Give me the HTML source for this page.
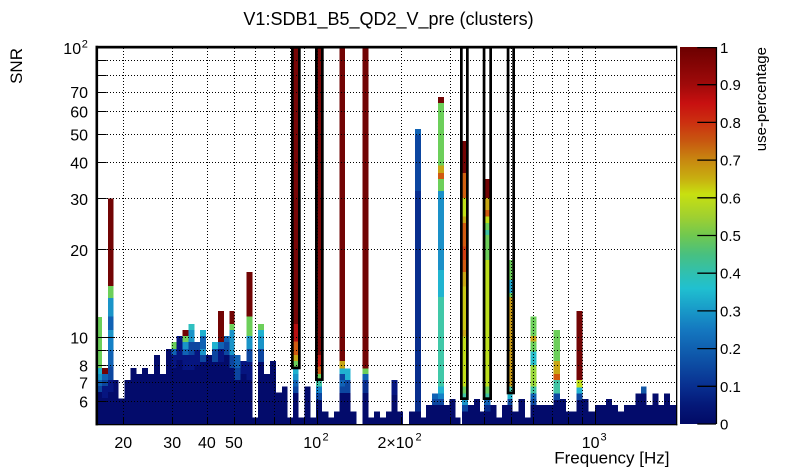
<!DOCTYPE html>
<html><head><meta charset="utf-8"><style>
html,body{margin:0;padding:0;background:#fff;}
svg{display:block;}
text{font-family:"Liberation Sans",Arial,sans-serif;fill:#000;}
</style></head><body>
<svg width="805" height="472" viewBox="0 0 805 472" xmlns="http://www.w3.org/2000/svg">
<defs>
<linearGradient id="pal" x1="0" y1="1" x2="0" y2="0">
<stop offset="0" stop-color="#020a66"/>
<stop offset="0.05" stop-color="#041878"/>
<stop offset="0.1" stop-color="#082f90"/>
<stop offset="0.15" stop-color="#0c48a0"/>
<stop offset="0.2" stop-color="#1060b0"/>
<stop offset="0.25" stop-color="#1478c0"/>
<stop offset="0.3" stop-color="#1898c8"/>
<stop offset="0.36" stop-color="#20c0d0"/>
<stop offset="0.4" stop-color="#30c0b0"/>
<stop offset="0.45" stop-color="#48c080"/>
<stop offset="0.5" stop-color="#70c850"/>
<stop offset="0.55" stop-color="#a0d030"/>
<stop offset="0.61" stop-color="#c8e010"/>
<stop offset="0.65" stop-color="#c8b010"/>
<stop offset="0.7" stop-color="#c88810"/>
<stop offset="0.75" stop-color="#c85810"/>
<stop offset="0.8" stop-color="#cc3010"/>
<stop offset="0.85" stop-color="#c81010"/>
<stop offset="0.9" stop-color="#a00a0a"/>
<stop offset="1" stop-color="#6c0000"/>
</linearGradient>
</defs>
<rect x="0" y="0" width="805" height="472" fill="#fff"/>

<!-- title -->
<text x="388.5" y="25" font-size="18" text-anchor="middle">V1:SDB1_B5_QD2_V_pre (clusters)</text>

<!-- histogram cells -->
<g shape-rendering="crispEdges">
<!-- A -->
<rect x="97" y="317" width="5" height="51" fill="#6ccf5a"/>
<rect x="97" y="368" width="5" height="6" fill="#20b2d0"/>
<rect x="97" y="374" width="5" height="6" fill="#1a94c8"/>
<rect x="97" y="380" width="5" height="6" fill="#1062b4"/>
<rect x="97" y="386" width="5" height="6" fill="#0c46a0"/>
<rect x="97" y="392" width="5" height="32" fill="#030b6b"/>
<!-- B -->
<rect x="102" y="368" width="6" height="6" fill="#720404"/>
<rect x="102" y="374" width="6" height="6" fill="#1062b4"/>
<rect x="102" y="380" width="6" height="6" fill="#0c46a0"/>
<rect x="102" y="386" width="6" height="12" fill="#061580"/>
<rect x="102" y="398" width="6" height="26" fill="#030b6b"/>
<!-- C -->
<rect x="108" y="198.3" width="5.3" height="87.7" fill="#720404"/>
<rect x="108" y="286" width="5.3" height="12" fill="#6ccf5a"/>
<rect x="108" y="298" width="5.3" height="18.7" fill="#1a94c8"/>
<rect x="108" y="316.7" width="5.3" height="13.3" fill="#1062b4"/>
<rect x="108" y="330" width="5.3" height="6.7" fill="#1a94c8"/>
<rect x="108" y="336.7" width="5.3" height="13.3" fill="#1480c6"/>
<rect x="108" y="350" width="5.3" height="16.7" fill="#1062b4"/>
<rect x="108" y="366.7" width="5.3" height="13.3" fill="#0c46a0"/>
<rect x="108" y="380" width="5.3" height="12" fill="#061580"/>
<rect x="108" y="392" width="5.3" height="32" fill="#030b6b"/>
<!-- D..M -->
<rect x="113.3" y="380" width="5.4" height="44" fill="#030b6b"/>
<rect x="118.7" y="398.7" width="6" height="25.3" fill="#030b6b"/>
<rect x="124.7" y="380" width="6" height="44" fill="#030b6b"/>
<rect x="130.7" y="368" width="6" height="56" fill="#030b6b"/>
<rect x="136.7" y="374" width="5.3" height="50" fill="#030b6b"/>
<rect x="142" y="368" width="6" height="56" fill="#030b6b"/>
<rect x="148" y="374" width="6" height="50" fill="#030b6b"/>
<rect x="154" y="355" width="6" height="69" fill="#030b6b"/>
<rect x="160" y="374" width="6" height="50" fill="#030b6b"/>
<rect x="166" y="349" width="5.3" height="75" fill="#030b6b"/>
<!-- Nn -->
<rect x="171.3" y="342" width="5.4" height="7" fill="#6ccf5a"/>
<rect x="171.3" y="349" width="5.4" height="6" fill="#1062b4"/>
<rect x="171.3" y="355" width="5.4" height="13" fill="#061580"/>
<rect x="171.3" y="368" width="5.4" height="56" fill="#030b6b"/>
<!-- O -->
<rect x="176.7" y="336" width="6" height="24" fill="#061580"/>
<rect x="176.7" y="360" width="6" height="64" fill="#030b6b"/>
<!-- P -->
<rect x="182.7" y="330" width="6" height="6" fill="#720404"/>
<rect x="182.7" y="336" width="6" height="6" fill="#6ccf5a"/>
<rect x="182.7" y="342" width="6" height="7" fill="#1a94c8"/>
<rect x="182.7" y="349" width="6" height="6" fill="#1062b4"/>
<rect x="182.7" y="355" width="6" height="15" fill="#061580"/>
<rect x="182.7" y="370" width="6" height="54" fill="#030b6b"/>
<!-- Q -->
<rect x="188.7" y="324" width="6" height="6" fill="#30c0c0"/>
<rect x="188.7" y="330" width="6" height="12" fill="#1a94c8"/>
<rect x="188.7" y="342" width="6" height="13" fill="#0c46a0"/>
<rect x="188.7" y="355" width="6" height="15" fill="#061580"/>
<rect x="188.7" y="370" width="6" height="54" fill="#030b6b"/>
<!-- R -->
<rect x="194.7" y="342" width="5.3" height="8" fill="#0c46a0"/>
<rect x="194.7" y="350" width="5.3" height="15" fill="#061580"/>
<rect x="194.7" y="365" width="5.3" height="59" fill="#030b6b"/>
<!-- S -->
<rect x="200" y="330" width="6" height="6" fill="#20b2d0"/>
<rect x="200" y="336" width="6" height="13" fill="#1062b4"/>
<rect x="200" y="349" width="6" height="6" fill="#1a94c8"/>
<rect x="200" y="355" width="6" height="7" fill="#0c46a0"/>
<rect x="200" y="362" width="6" height="62" fill="#030b6b"/>
<!-- T -->
<rect x="206" y="355" width="6" height="69" fill="#030b6b"/>
<!-- U -->
<rect x="212" y="342" width="6" height="7" fill="#20b2d0"/>
<rect x="212" y="349" width="6" height="13" fill="#0c46a0"/>
<rect x="212" y="362" width="6" height="62" fill="#030b6b"/>
<!-- V -->
<rect x="218" y="311" width="6" height="31" fill="#720404"/>
<rect x="218" y="342" width="6" height="7" fill="#1062b4"/>
<rect x="218" y="349" width="6" height="13" fill="#061580"/>
<rect x="218" y="362" width="6" height="62" fill="#030b6b"/>
<!-- W -->
<rect x="224" y="336" width="5.3" height="6" fill="#1062b4"/>
<rect x="224" y="342" width="5.3" height="13" fill="#0c46a0"/>
<rect x="224" y="355" width="5.3" height="69" fill="#030b6b"/>
<!-- X -->
<rect x="229.3" y="311" width="5.4" height="13" fill="#720404"/>
<rect x="229.3" y="324" width="5.4" height="6" fill="#6ccf5a"/>
<rect x="229.3" y="330" width="5.4" height="25" fill="#1a94c8"/>
<rect x="229.3" y="355" width="5.4" height="13" fill="#0c46a0"/>
<rect x="229.3" y="368" width="5.4" height="56" fill="#030b6b"/>
<!-- Y -->
<rect x="234.7" y="355" width="6" height="13" fill="#1062b4"/>
<rect x="234.7" y="368" width="6" height="12" fill="#0c46a0"/>
<rect x="234.7" y="380" width="6" height="44" fill="#030b6b"/>
<!-- Z -->
<rect x="240.7" y="361" width="6" height="13" fill="#061580"/>
<rect x="240.7" y="374" width="6" height="50" fill="#030b6b"/>
<!-- AA -->
<rect x="246.7" y="272" width="6" height="44.7" fill="#720404"/>
<rect x="246.7" y="316.7" width="6" height="19.3" fill="#6ccf5a"/>
<rect x="246.7" y="336" width="6" height="13" fill="#1a94c8"/>
<rect x="246.7" y="349" width="6" height="13" fill="#0c46a0"/>
<rect x="246.7" y="362" width="6" height="18" fill="#061580"/>
<rect x="246.7" y="380" width="6" height="44" fill="#030b6b"/>
<!-- AB -->
<rect x="252.7" y="417.7" width="5.3" height="6.3" fill="#030b6b"/>
<!-- AC -->
<rect x="258" y="324" width="6" height="6" fill="#6ccf5a"/>
<rect x="258" y="330" width="6" height="6" fill="#20b2d0"/>
<rect x="258" y="336" width="6" height="13" fill="#1a94c8"/>
<rect x="258" y="349" width="6" height="13" fill="#0c46a0"/>
<rect x="258" y="362" width="6" height="62" fill="#030b6b"/>
<!-- AD..AH -->
<rect x="264" y="374" width="6" height="50" fill="#030b6b"/>
<rect x="270" y="361" width="6" height="63" fill="#030b6b"/>
<rect x="276" y="392.7" width="6" height="31.3" fill="#030b6b"/>
<rect x="282" y="386.7" width="5.3" height="37.3" fill="#030b6b"/>
<rect x="287.3" y="417.7" width="5.7" height="6.3" fill="#030b6b"/>
<!-- AI (box1) -->
<rect x="293" y="47" width="5.7" height="277" fill="#780606"/>
<rect x="293" y="324" width="5.7" height="17.7" fill="#b81010"/>
<rect x="293" y="341.7" width="5.7" height="13.3" fill="#d05a10"/>
<rect x="293" y="355" width="5.7" height="6" fill="#c8a614"/>
<rect x="293" y="361" width="5.7" height="8" fill="#6ccf5a"/>
<rect x="293" y="369" width="5.7" height="5" fill="#20b2d0"/>
<rect x="293" y="374" width="5.7" height="6" fill="#1a94c8"/>
<rect x="293" y="380" width="5.7" height="6.7" fill="#1062b4"/>
<rect x="293" y="386.7" width="5.7" height="6.3" fill="#0c46a0"/>
<rect x="293" y="393" width="5.7" height="31" fill="#030b6b"/>
<!-- AJ AK AL -->
<rect x="298.7" y="417.7" width="6" height="6.3" fill="#030b6b"/>
<rect x="304.7" y="386.7" width="6" height="37.3" fill="#030b6b"/>
<rect x="310.7" y="417.7" width="5.3" height="6.3" fill="#030b6b"/>
<!-- AM (box2) -->
<rect x="316" y="47" width="6" height="308" fill="#7c0808"/>
<rect x="316" y="355" width="6" height="11.7" fill="#c0140f"/>
<rect x="316" y="366.7" width="6" height="7.3" fill="#d05a10"/>
<rect x="316" y="374" width="6" height="7" fill="#6ccf5a"/>
<rect x="316" y="381" width="6" height="5.7" fill="#40c4a4"/>
<rect x="316" y="386.7" width="6" height="6.3" fill="#1480c6"/>
<rect x="316" y="393" width="6" height="7" fill="#0c46a0"/>
<rect x="316" y="400" width="6" height="24" fill="#030b6b"/>
<!-- AN AO AP -->
<rect x="322" y="411.7" width="6.3" height="12.3" fill="#030b6b"/>
<rect x="328.3" y="417.7" width="5.7" height="6.3" fill="#030b6b"/>
<rect x="334" y="411.7" width="5.7" height="12.3" fill="#030b6b"/>
<!-- AQ -->
<rect x="339.7" y="47" width="5.3" height="314" fill="#720404"/>
<rect x="339.7" y="361" width="5.3" height="7.3" fill="#c8a614"/>
<rect x="339.7" y="368.3" width="5.3" height="5.7" fill="#20b2d0"/>
<rect x="339.7" y="374" width="5.3" height="6" fill="#0c46a0"/>
<rect x="339.7" y="380" width="5.3" height="6.7" fill="#1062b4"/>
<rect x="339.7" y="386.7" width="5.3" height="6.3" fill="#0c46a0"/>
<rect x="339.7" y="393" width="5.3" height="31" fill="#030b6b"/>
<!-- AR -->
<rect x="345" y="368.3" width="5.7" height="11.7" fill="#20b2d0"/>
<rect x="345" y="380" width="5.7" height="13" fill="#0c46a0"/>
<rect x="345" y="393" width="5.7" height="31" fill="#030b6b"/>
<!-- AS -->
<rect x="350.7" y="411.7" width="6" height="12.3" fill="#030b6b"/>
<!-- AU -->
<rect x="362.7" y="47" width="6" height="321.3" fill="#720404"/>
<rect x="362.7" y="368.3" width="6" height="5.7" fill="#6ccf5a"/>
<rect x="362.7" y="374" width="6" height="6" fill="#1062b4"/>
<rect x="362.7" y="380" width="6" height="13" fill="#082e8e"/>
<rect x="362.7" y="393" width="6" height="31" fill="#030b6b"/>
<!-- AV..BC -->
<rect x="368.7" y="417.7" width="5.3" height="6.3" fill="#030b6b"/>
<rect x="374" y="411.7" width="6" height="12.3" fill="#030b6b"/>
<rect x="380" y="417.7" width="6" height="6.3" fill="#030b6b"/>
<rect x="386" y="411.7" width="5.7" height="12.3" fill="#030b6b"/>
<rect x="391.7" y="380" width="5.6" height="15" fill="#061580"/>
<rect x="391.7" y="395" width="5.6" height="29" fill="#030b6b"/>
<rect x="397.3" y="411.7" width="5.7" height="12.3" fill="#030b6b"/>
<rect x="409" y="411.7" width="6" height="12.3" fill="#030b6b"/>
<!-- BD -->
<rect x="415" y="129" width="6" height="6" fill="#1062b4"/>
<rect x="415" y="135" width="6" height="56" fill="#0c46a0"/>
<rect x="415" y="191" width="6" height="220.7" fill="#082e8e"/>
<rect x="415" y="411.7" width="6" height="12.3" fill="#030b6b"/>
<!-- BE BF BG -->
<rect x="421" y="417.7" width="5" height="6.3" fill="#030b6b"/>
<rect x="426" y="405" width="6" height="19" fill="#030b6b"/>
<rect x="432" y="393.3" width="6" height="5.7" fill="#1062b4"/>
<rect x="432" y="399" width="6" height="6" fill="#0c46a0"/>
<rect x="432" y="405" width="6" height="19" fill="#030b6b"/>
<!-- BH -->
<rect x="438" y="97" width="6" height="6" fill="#720404"/>
<rect x="438" y="103" width="6" height="62.7" fill="#6ccf5a"/>
<rect x="438" y="165.7" width="6" height="7.3" fill="#c8a614"/>
<rect x="438" y="173" width="6" height="6" fill="#d05a10"/>
<rect x="438" y="179" width="6" height="12" fill="#6ccf5a"/>
<rect x="438" y="191" width="6" height="79" fill="#1a90c8"/>
<rect x="438" y="270" width="6" height="27" fill="#20b4d0"/>
<rect x="438" y="297" width="6" height="89.7" fill="#40c8a8"/>
<rect x="438" y="386.7" width="6" height="6.6" fill="#20b2d0"/>
<rect x="438" y="393.3" width="6" height="5.7" fill="#1480c6"/>
<rect x="438" y="399" width="6" height="6" fill="#0c46a0"/>
<rect x="438" y="405" width="6" height="19" fill="#030b6b"/>
<!-- BI BJ BK -->
<rect x="444" y="405" width="5.7" height="19" fill="#030b6b"/>
<rect x="449.7" y="399" width="5.6" height="25" fill="#030b6b"/>
<rect x="455.3" y="417.7" width="5.4" height="6.3" fill="#030b6b"/>
<!-- BL (box3) -->
<rect x="462" y="141" width="6" height="32" fill="#720404"/>
<rect x="462" y="173" width="6" height="25" fill="#d06010"/>
<rect x="462" y="198" width="6" height="18.7" fill="#c0de18"/>
<rect x="462" y="216.7" width="6" height="6.3" fill="#c8a614"/>
<rect x="462" y="223" width="6" height="23.7" fill="#d05a10"/>
<rect x="462" y="246.7" width="6" height="13.3" fill="#d03c10"/>
<rect x="462" y="260" width="6" height="12" fill="#d05a10"/>
<rect x="462" y="272" width="6" height="14.7" fill="#c8a614"/>
<rect x="462" y="286.7" width="6" height="43.3" fill="#c8c814"/>
<rect x="462" y="330" width="6" height="6.7" fill="#c8a614"/>
<rect x="462" y="336.7" width="6" height="50" fill="#c0de18"/>
<rect x="462" y="386.7" width="6" height="6.6" fill="#6ccf5a"/>
<rect x="462" y="393.3" width="6" height="6.7" fill="#40c4a4"/>
<rect x="462" y="400" width="6" height="5" fill="#1a94c8"/>
<rect x="462" y="405" width="6" height="6.7" fill="#0c46a0"/>
<rect x="462" y="411.7" width="6" height="12.3" fill="#030b6b"/>
<!-- BM BN BO -->
<rect x="468" y="405" width="6" height="19" fill="#030b6b"/>
<rect x="474" y="399" width="6" height="25" fill="#030b6b"/>
<rect x="480" y="411.7" width="4" height="12.3" fill="#030b6b"/>
<!-- BP (box4) -->
<rect x="484" y="179" width="6.3" height="19" fill="#720404"/>
<rect x="484" y="198" width="6.3" height="12" fill="#c8a614"/>
<rect x="484" y="210" width="6.3" height="6.7" fill="#d05a10"/>
<rect x="484" y="216.7" width="6.3" height="6.3" fill="#c0de18"/>
<rect x="484" y="223" width="6.3" height="7" fill="#6ccf5a"/>
<rect x="484" y="230" width="6.3" height="5" fill="#40c4a4"/>
<rect x="484" y="235" width="6.3" height="25" fill="#6ccf5a"/>
<rect x="484" y="260" width="6.3" height="126.7" fill="#bcde1c"/>
<rect x="484" y="386.7" width="6.3" height="6.6" fill="#6ccf5a"/>
<rect x="484" y="393.3" width="6.3" height="6.7" fill="#40c4a4"/>
<rect x="484" y="400" width="6.3" height="5" fill="#1062b4"/>
<rect x="484" y="405" width="6.3" height="6.7" fill="#082e8e"/>
<rect x="484" y="411.7" width="6.3" height="12.3" fill="#030b6b"/>
<!-- BQ BR BS -->
<rect x="490.3" y="405" width="6.4" height="19" fill="#030b6b"/>
<rect x="496.7" y="417.7" width="5.3" height="6.3" fill="#030b6b"/>
<rect x="502" y="405" width="5.5" height="19" fill="#030b6b"/>
<!-- BT (box5) -->
<rect x="507.5" y="260" width="5" height="20" fill="#6ccf5a"/>
<rect x="507.5" y="280" width="5" height="13" fill="#20a8d0"/>
<rect x="507.5" y="293" width="5" height="4" fill="#6ccf5a"/>
<rect x="507.5" y="297" width="5" height="89.7" fill="#c89a14"/>
<rect x="507.5" y="386.7" width="5" height="7.6" fill="#40c4a4"/>
<rect x="507.5" y="394.3" width="5" height="4.7" fill="#20b2d0"/>
<rect x="507.5" y="399" width="5" height="6" fill="#0c46a0"/>
<rect x="507.5" y="405" width="5" height="19" fill="#030b6b"/>
<!-- BU BV BW -->
<rect x="512.5" y="411.7" width="5.8" height="12.3" fill="#030b6b"/>
<rect x="518.3" y="399" width="6.7" height="25" fill="#030b6b"/>
<rect x="525" y="417.7" width="5.7" height="6.3" fill="#030b6b"/>
<!-- BX -->
<rect x="530.7" y="316.7" width="6" height="19.3" fill="#6ccf5a"/>
<rect x="530.7" y="336" width="6" height="5.7" fill="#c8a614"/>
<rect x="530.7" y="341.7" width="6" height="10" fill="#6ccf5a"/>
<rect x="530.7" y="351.7" width="6" height="13.3" fill="#28bcc8"/>
<rect x="530.7" y="365" width="6" height="21.7" fill="#98d63a"/>
<rect x="530.7" y="386.7" width="6" height="6.6" fill="#40c4a4"/>
<rect x="530.7" y="393.3" width="6" height="5.7" fill="#1062b4"/>
<rect x="530.7" y="399" width="6" height="6" fill="#0c46a0"/>
<rect x="530.7" y="405" width="6" height="19" fill="#030b6b"/>
<!-- BY -->
<rect x="536.7" y="405" width="16.6" height="19" fill="#030b6b"/>
<!-- BZ -->
<rect x="553.3" y="330" width="6.7" height="31" fill="#6ccf5a"/>
<rect x="553.3" y="361" width="6.7" height="13" fill="#c8a614"/>
<rect x="553.3" y="374" width="6.7" height="6" fill="#d05a10"/>
<rect x="553.3" y="380" width="6.7" height="13.3" fill="#40c4a4"/>
<rect x="553.3" y="393.3" width="6.7" height="6.7" fill="#0c46a0"/>
<rect x="553.3" y="400" width="6.7" height="24" fill="#030b6b"/>
<!-- CA CB -->
<rect x="560" y="399" width="6" height="25" fill="#030b6b"/>
<rect x="566" y="411.7" width="10.7" height="12.3" fill="#030b6b"/>
<!-- CC -->
<rect x="576.7" y="311" width="6" height="69" fill="#720404"/>
<rect x="576.7" y="380" width="6" height="7.3" fill="#c0de18"/>
<rect x="576.7" y="387.3" width="6" height="6" fill="#20b2d0"/>
<rect x="576.7" y="393.3" width="6" height="6.7" fill="#0c46a0"/>
<rect x="576.7" y="400" width="6" height="24" fill="#030b6b"/>
<!-- CD..CQ -->
<rect x="582.7" y="399" width="6" height="25" fill="#030b6b"/>
<rect x="588.7" y="411.7" width="6.3" height="12.3" fill="#030b6b"/>
<rect x="595" y="405" width="11" height="19" fill="#030b6b"/>
<rect x="606" y="399" width="6" height="25" fill="#030b6b"/>
<rect x="612" y="405" width="6" height="19" fill="#030b6b"/>
<rect x="618" y="411.7" width="6" height="12.3" fill="#030b6b"/>
<rect x="624" y="405" width="11.3" height="19" fill="#030b6b"/>
<rect x="635.3" y="393.3" width="5.7" height="30.7" fill="#030b6b"/>
<rect x="641" y="386.7" width="5.7" height="6.6" fill="#1458a8"/>
<rect x="641" y="393.3" width="5.7" height="30.7" fill="#030b6b"/>
<rect x="646.7" y="405" width="6" height="19" fill="#030b6b"/>
<rect x="652.7" y="393.3" width="5.6" height="30.7" fill="#030b6b"/>
<rect x="658.3" y="405" width="5.7" height="19" fill="#030b6b"/>
<rect x="664" y="393.3" width="6" height="30.7" fill="#030b6b"/>
<rect x="670" y="405" width="6" height="19" fill="#030b6b"/>
</g>

<!-- grid -->
<g stroke="#000" stroke-width="1" stroke-dasharray="1 2" fill="none">
<path d="M98 60.5H676M98 75.5H676M98 92.5H676M98 111.5H676M98 134.5H676M98 162.5H676M98 198.5H676M98 249.5H676M98 337.5H676M98 350.5H676M98 365.5H676M98 382.5H676M98 401.5H676"/>
<path d="M123.5 48V424M172.5 48V424M207.5 48V424M234.5 48V424M255.5 48V424M274.5 48V424M290.5 48V424M304.5 48V424M317.5 48V424M401.5 48V424M450.5 48V424M484.5 48V424M511.5 48V424M533.5 48V424M552.5 48V424M568.5 48V424M582.5 48V424M595.5 48V424"/>
</g>

<!-- axis ticks -->
<g stroke="#000" stroke-width="1" fill="none">
<path d="M98 337.5H115"/>
<path d="M98 60.5H106.7M98 75.5H106.7M98 92.5H106.7M98 111.5H106.7M98 134.5H106.7M98 162.5H106.7M98 198.5H106.7M98 249.5H106.7M98 350.5H106.7M98 365.5H106.7M98 382.5H106.7M98 401.5H106.7"/>
<path d="M317.5 424V410M595.5 424V410"/>
<path d="M123.5 424V417M172.5 424V417M207.5 424V417M234.5 424V417M255.5 424V417M274.5 424V417M290.5 424V417M304.5 424V417M401.5 424V417M450.5 424V417M484.5 424V417M511.5 424V417M533.5 424V417M552.5 424V417M568.5 424V417M582.5 424V417"/>
</g>

<!-- cluster boxes -->
<g stroke="#000" stroke-width="2.7" fill="none">
<rect x="292.35" y="47.35" width="7" height="320.6"/>
<rect x="316.35" y="47.35" width="6" height="332.3"/>
<rect x="461.35" y="47.35" width="6" height="351.3"/>
<rect x="484.05" y="47.35" width="6.6" height="351.3"/>
<rect x="508.05" y="47.35" width="5.6" height="345.6"/>
</g>

<!-- frame -->
<rect x="95.5" y="45.8" width="581.5" height="2.7" fill="#000"/>
<rect x="95.5" y="45.8" width="2.6" height="379.5" fill="#000"/>
<rect x="95.5" y="424" width="581.8" height="1.3" fill="#000"/>
<rect x="676" y="45.8" width="1.3" height="379.5" fill="#000"/>

<!-- y labels -->
<g font-size="16" text-anchor="end">
<text x="88" y="98">70</text>
<text x="88" y="117.4">60</text>
<text x="88" y="140.4">50</text>
<text x="88" y="168.5">40</text>
<text x="88" y="204.8">30</text>
<text x="88" y="255.9">20</text>
<text x="88" y="343.3">10</text>
<text x="88" y="371.4">8</text>
<text x="88" y="388.3">7</text>
<text x="88" y="407.7">6</text>
</g>
<text x="63.3" y="54" font-size="16">10</text>
<text x="81.7" y="47.5" font-size="11">2</text>
<text transform="translate(22,48) rotate(-90)" font-size="17" text-anchor="end">SNR</text>

<!-- x labels -->
<g font-size="16" text-anchor="middle">
<text x="123.3" y="448">20</text>
<text x="172.2" y="448">30</text>
<text x="206.9" y="448">40</text>
<text x="233.9" y="448">50</text>
</g>
<text x="303.3" y="448" font-size="16">10</text>
<text x="322.5" y="440.5" font-size="11">2</text>
<text x="377.5" y="448" font-size="16">2×10</text>
<text x="415.5" y="440.5" font-size="11">2</text>
<text x="581.7" y="448" font-size="16">10</text>
<text x="600.5" y="440.5" font-size="11">3</text>
<text x="669.5" y="463.5" font-size="17" text-anchor="end">Frequency [Hz]</text>

<!-- palette -->
<rect x="680" y="47" width="36" height="377" fill="url(#pal)"/>
<rect x="715.8" y="47" width="1.3" height="377" fill="#000"/>
<g stroke="#000" stroke-width="1.3">
<path d="M697.3 424H716M697.3 386.3H716M697.3 348.6H716M697.3 310.9H716M697.3 273.2H716M697.3 235.5H716M697.3 197.8H716M697.3 160.1H716M697.3 122.4H716M697.3 84.7H716M697.3 47.6H716"/>
</g>
<g font-size="15">
<text x="720" y="429.5">0</text>
<text x="720" y="391.8">0.1</text>
<text x="720" y="354.1">0.2</text>
<text x="720" y="316.4">0.3</text>
<text x="720" y="278.7">0.4</text>
<text x="720" y="241">0.5</text>
<text x="720" y="203.3">0.6</text>
<text x="720" y="165.6">0.7</text>
<text x="720" y="127.9">0.8</text>
<text x="720" y="90.2">0.9</text>
<text x="720" y="53">1</text>
</g>
<text transform="translate(766,47) rotate(-90)" font-size="15" text-anchor="end">use-percentage</text>
</svg>
</body></html>
